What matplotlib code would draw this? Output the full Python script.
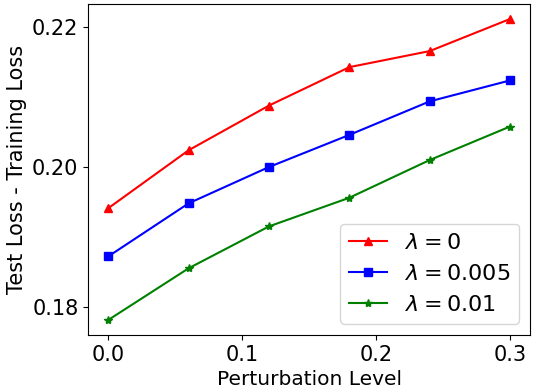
import matplotlib
matplotlib.use("Agg")
import matplotlib.pyplot as plt

x = [0.0, 0.06, 0.12, 0.18, 0.24, 0.3]
lam0 = [0.1941, 0.2024, 0.2088, 0.2143, 0.2166, 0.2212]
lam005 = [0.1872, 0.1948, 0.2000, 0.2046, 0.2094, 0.2124]
lam01 = [0.1781, 0.1855, 0.1915, 0.1956, 0.2010, 0.2058]
labels = [r"$\lambda = 0$", r"$\lambda = 0.005$", r"$\lambda = 0.01$"]

fig = plt.figure(figsize=(5.41, 3.9), dpi=100)
ax = fig.add_axes([0.163, 0.141, 0.817, 0.849])
ax.plot(x, lam0, color="red", marker="^", markersize=6, label=labels[0])
ax.plot(x, lam005, color="blue", marker="s", markersize=6, label=labels[1])
ax.plot(x, lam01, color="green", marker="*", markersize=6, label=labels[2])
ax.set_xticks([0.0, 0.1, 0.2, 0.3])
ax.set_yticks([0.18, 0.20, 0.22])
ax.set_yticklabels(["0.18", "0.20", "0.22"])
ax.set_xticklabels(["0.0", "0.1", "0.2", "0.3"])
ax.tick_params(labelsize=15)
ax.set_xlabel("Perturbation Level", fontsize=14.5)
ax.set_ylabel("Test Loss - Training Loss", fontsize=15)
ax.legend(loc="lower right", fontsize=16, handlelength=1.7)
fig.savefig("out.png", dpi=100)
